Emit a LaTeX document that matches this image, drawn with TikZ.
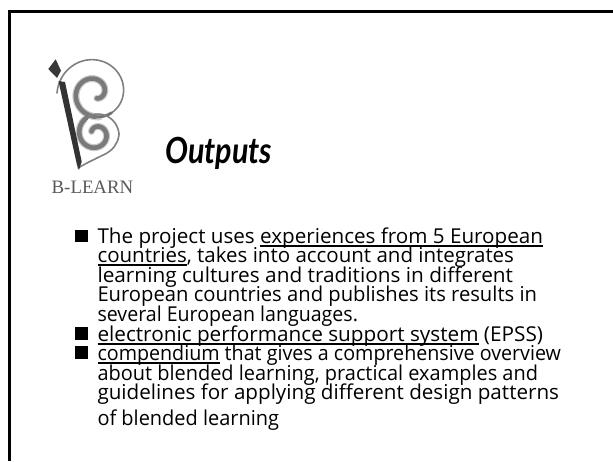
\documentclass[tikz,border=0pt]{standalone}
\usepackage{fontspec}
\usepackage{graphicx}
\setmainfont{Open Sans}
\newfontfamily\logofont{Liberation Serif}
\newfontfamily\titlefont{Lato}
\newsavebox\ulbox
\newcommand{\ulined}[1]{\sbox\ulbox{#1}\rlap{\rule[-3.6pt]{\wd\ulbox}{1.7pt}}\usebox\ulbox}
\newcommand{\fitw}[2]{\resizebox{#1pt}{\height}{#2}}
\tikzset{
  x=1pt,y=-1pt,
  textline/.style={anchor=base west,inner sep=0pt,outer sep=0pt,font=\fontsize{20.5}{21}\selectfont,text=black},
  bulletbox/.style={fill=black,inner sep=0pt,outer sep=0pt,minimum width=13pt,minimum height=12.5pt,anchor=north west},
  spiralthin/.style={draw=black!50,line width=1.6pt,line cap=round,line join=round},
  spiralmid/.style={draw=black!55,line width=2.8pt,line cap=round,line join=round},
  spiralthick/.style={draw=black!52,line width=4.6pt,line cap=round,line join=round},
  halo/.style={draw=black!20,line width=#1,line cap=round,line join=round},
}
\begin{document}
\begin{tikzpicture}
\useasboundingbox (0,0) rectangle (613,461);
\fill[white] (0,0) rectangle (613,461);
% frame
\draw[line width=3pt,black] (9,461) -- (9,11.3) -- (613,11.3);
% logo: upper spiral
\draw[halo=7pt] plot[smooth,samples=40,domain=440:790] ({95+(38-0.053*(\x-180))*cos(\x)},{93+(38-0.053*(\x-180))*sin(\x)});
\draw[spiralthin] plot[smooth,samples=40,domain=180:420] ({95+(38-0.053*(\x-180))*cos(\x)},{93+(38-0.053*(\x-180))*sin(\x)});
\draw[spiralmid] plot[smooth,samples=10,domain=410:460] ({95+(38-0.053*(\x-180))*cos(\x)},{93+(38-0.053*(\x-180))*sin(\x)});
\draw[spiralthick] plot[smooth,samples=40,domain=450:790] ({95+(38-0.053*(\x-180))*cos(\x)},{93+(38-0.053*(\x-180))*sin(\x)});
% logo: lower spiral
\draw[halo=7pt] plot[smooth,samples=40,domain=-130:-510] ({96+(23+0.035*\x)*cos(\x)},{134+(23+0.035*\x)*sin(\x)});
\draw[spiralthin] plot[smooth,tension=0.7] coordinates {(78,168) (87,163) (97,158) (110,151) (117,142) (119,134)};
\draw[spiralthin] plot[smooth,samples=20,domain=0:-110] ({96+(23+0.035*\x)*cos(\x)},{134+(23+0.035*\x)*sin(\x)});
\draw[spiralthick] plot[smooth,samples=40,domain=-120:-510] ({96+(23+0.035*\x)*cos(\x)},{134+(23+0.035*\x)*sin(\x)});
% logo: pen
\fill[black!78] (55.7,59.3) -- (61,70.7) -- (57,78) -- (48.3,69) -- cycle;
\fill[black!80] (58.5,81) -- (65,82) -- (81.7,161.7) -- (79,170) -- (77,165) -- cycle;
\node[anchor=base west,inner sep=0pt,text=black!65,font=\logofont\fontsize{19}{20}\selectfont] (logotext) at (51.5,193) {\fitw{81.5}{B-LEARN}};
% title
\node[anchor=base west,inner sep=0pt,font=\titlefont\fontsize{36}{40}\selectfont\bfseries\itshape] (title) at (165,163) {\fitw{107}{Outputs}};
% bullets
\node[bulletbox] (b1) at (75,229.5) {};
\node[bulletbox] (b2) at (75,327) {};
\node[bulletbox] (b3) at (75,346) {};
% text
\node[textline] (l1) at (97.5,243) {\fitw{445.5}{The project uses \ulined{experiences from 5 European}}};
\node[textline] (l2) at (97.5,262) {\fitw{416.5}{\ulined{countries}, takes into account and integrates}};
\node[textline] (l3) at (97.5,282) {\fitw{415.5}{learning cultures and traditions in different}};
\node[textline] (l4) at (97.5,301) {\fitw{439.5}{European countries and publishes its results in}};
\node[textline] (l5) at (97.5,321) {\fitw{260.5}{several European languages.}};
\node[textline] (l6) at (97.5,341) {\fitw{445.5}{\ulined{electronic performance support system} (EPSS)}};
\node[textline] (l7) at (97.5,360) {\fitw{463.5}{\ulined{compendium} that gives a comprehensive overview}};
\node[textline] (l8) at (97.5,380) {\fitw{440.5}{about blended learning, practical examples and}};
\node[textline] (l9) at (97.5,399) {\fitw{461.5}{guidelines for applying different design patterns}};
\node[textline] (l10) at (97.5,425) {\fitw{181.5}{of blended learning}};
\end{tikzpicture}
\end{document}
